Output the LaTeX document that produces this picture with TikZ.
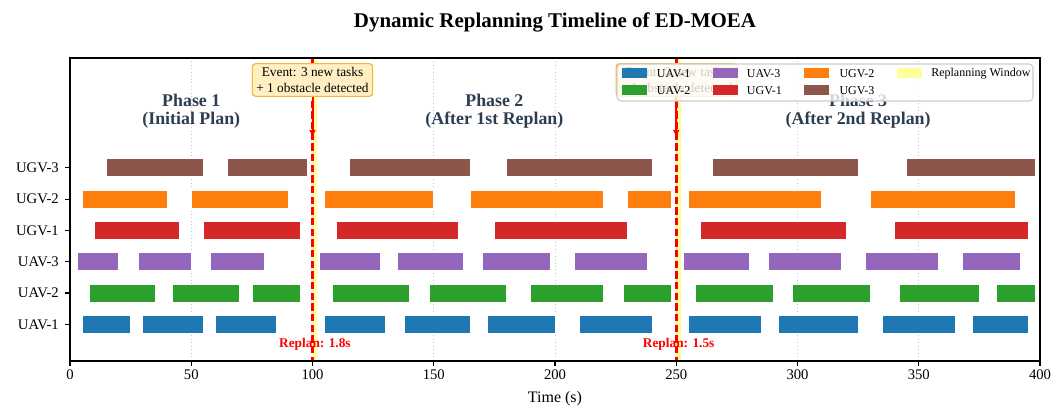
\documentclass[tikz,border=0pt]{standalone}
\usepackage{fontspec}
\setmainfont{Liberation Serif}
\usetikzlibrary{arrows.meta}

\definecolor{uavone}{HTML}{1F77B4}
\definecolor{uavtwo}{HTML}{2CA02C}
\definecolor{uavthree}{HTML}{9467BD}
\definecolor{ugvone}{HTML}{D62728}
\definecolor{ugvtwo}{HTML}{FF7F0E}
\definecolor{ugvthree}{HTML}{8C564B}
\definecolor{phasecol}{HTML}{2C3E50}
\definecolor{evfill}{HTML}{FFEFC2}
\definecolor{evdraw}{HTML}{F5B731}
\definecolor{window}{HTML}{FFFF99}

\tikzset{
  taskbar/.style={draw=white, line width=0.5pt},
  replanline/.style={red, line width=2pt, dash pattern=on 5.5pt off 2.5pt},
  eventbox/.style={draw=evdraw, fill=evfill, line width=0.9pt, rounded corners=2.5pt,
    align=center, inner sep=3pt, font=\fontsize{10}{11.5}\selectfont},
  phaselabel/.style={align=center, text=phasecol, font=\fontsize{13.4}{13.5}\selectfont\bfseries},
  ticklabel/.style={font=\fontsize{11}{13}\selectfont},
  legpatch/.style={minimum width=18.75pt, minimum height=7.5pt, inner sep=0pt},
  legtext/.style={anchor=west, inner sep=0pt, font=\fontsize{9}{10}\selectfont}
}

% one row of tasks: colour, row centre, list of start/end times
\newcommand{\taskrow}[3]{%
  \foreach \a/\b in {#3}
    \draw[taskbar, fill=#1] (\a,{#2-9}) rectangle (\b,{#2+9});
}

\begin{document}
\begin{tikzpicture}[x=0.75pt, y=-0.75pt]
\useasboundingbox (0,0) rectangle (1051,410);

\node[font=\fontsize{15.7}{18}\selectfont\bfseries] (title) at (555,22)
  {Dynamic Replanning Timeline of ED-MOEA};

% time axis in seconds
\begin{scope}[shift={(70,0)}, x=1.81875pt]
  \foreach \t in {50,150,200,300,350}
    \draw[gray!45, dotted, line width=0.6pt] (\t,58) -- (\t,361);

  \taskrow{uavone}{324.3}{5/25,30/55,60/85,105/130,138/165,172/200,210/240,255/285,292/325,335/365,372/395}
  \taskrow{uavtwo}{293}{8/35,42/70,75/95,108/140,148/180,190/220,228/248,258/290,298/330,342/375,382/398}
  \taskrow{uavthree}{261.7}{3/20,28/50,58/80,103/128,135/162,170/198,208/238,253/280,288/318,328/358,368/392}
  \taskrow{ugvone}{230.4}{10/45,55/95,110/160,175/230,260/320,340/395}
  \taskrow{ugvtwo}{199.1}{5/40,50/90,105/150,165/220,230/248,255/310,330/390}
  \taskrow{ugvthree}{167.8}{15/55,65/98,115/165,180/240,265/325,345/398}

  % replanning windows
  \fill[window] (100,58) rectangle (102,361);
  \fill[window] (250,58) rectangle (252,361);
  \draw[replanline] (100,58) -- (100,361);
  \draw[replanline] (250,58) -- (250,361);

  \node[eventbox] (ev1) at (100,80) {Event: 3 new tasks\\+ 1 obstacle detected};
  \node[eventbox] (ev2) at (250,80) {Event: 2 new tasks\\+ 1 obstacle detected};
  \coordinate (hit1) at (100,138);
  \coordinate (hit2) at (250,138);
  \draw[red, line width=1.5pt, -{Latex[length=6pt,width=5pt]}] (ev1.south) -- (hit1);
  \draw[red, line width=1.5pt, -{Latex[length=6pt,width=5pt]}] (ev2.south) -- (hit2);

  \node[phaselabel] (ph1) at (50,111.7) {Phase 1\\(Initial Plan)};
  \node[phaselabel] (ph2) at (175,111.7) {Phase 2\\(After 1st Replan)};
  \node[phaselabel] (ph3) at (325,111.7) {Phase 3\\(After 2nd Replan)};

  \node[red, font=\fontsize{10}{12}\selectfont\bfseries] (rp1) at (101,344) {Replan: 1.8s};
  \node[red, font=\fontsize{10}{12}\selectfont\bfseries] (rp2) at (251,344) {Replan: 1.5s};

  \foreach \t in {0,50,...,400} {
    \draw[line width=0.8pt] (\t,361) -- (\t,366);
    \node[ticklabel, anchor=north, inner sep=0pt] (xt\t) at (\t,369.5) {\t};
  }
\end{scope}

% agent rows
\foreach \y/\name in {324.3/UAV-1,293/UAV-2,261.7/UAV-3,230.4/UGV-1,199.1/UGV-2,167.8/UGV-3} {
  \draw[line width=0.8pt] (65,\y) -- (70,\y);
  \node[ticklabel, anchor=east, inner sep=0pt] (yt\name) at (59,\y) {\name};
}

\draw[line width=0.8pt] (70,58) rectangle (1040,361);
\node[font=\fontsize{12}{14}\selectfont] (xlabel) at (555,399) {Time (s)};

% legend
\draw[gray!40, fill=white, fill opacity=0.8, line width=0.8pt, rounded corners=3pt]
  (617,64) rectangle (1033,101);
\node[legpatch, fill=uavone] (lg1) at (634.2,73.3) {};
\node[legpatch, fill=uavtwo] (lg2) at (634.2,90.3) {};
\node[legpatch, fill=uavthree] (lg3) at (725.2,73.3) {};
\node[legpatch, fill=ugvone] (lg4) at (725.2,90.3) {};
\node[legpatch, fill=ugvtwo] (lg5) at (816.5,73.3) {};
\node[legpatch, fill=ugvthree] (lg6) at (816.5,90.3) {};
\node[legpatch, fill=window] (lg7) at (909.2,73.3) {};
\node[legtext] at (656.7,73.3) {UAV-1};
\node[legtext] at (656.7,90.3) {UAV-2};
\node[legtext] at (746.7,73.3) {UAV-3};
\node[legtext] at (746.7,90.3) {UGV-1};
\node[legtext] at (839.3,73.3) {UGV-2};
\node[legtext] at (839.3,90.3) {UGV-3};
\node[legtext] at (931,73.3) {Replanning Window};
\end{tikzpicture}
\end{document}
